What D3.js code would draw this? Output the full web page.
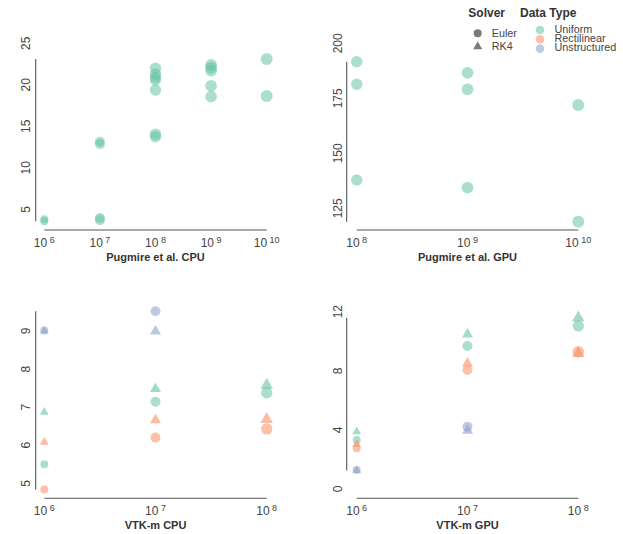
<!DOCTYPE html>
<html>
<head>
<meta charset="utf-8">
<script src="https://cdn.jsdelivr.net/npm/d3@7"></script>
<style>
  html, body { margin: 0; padding: 0; background: #fff; }
  svg { display: block; font-family: "Liberation Sans", Arial, Helvetica, sans-serif; }
</style>
</head>
<body>
<svg id="chart" width="623" height="534"></svg>
<script>
// ---------- data ----------
const panelTitles = ["Pugmire et al. CPU", "Pugmire et al. GPU", "VTK-m CPU", "VTK-m GPU"];
const solvers = ["Euler", "RK4"];
const dataTypes = ["Uniform", "Rectilinear", "Unstructured"];

// [particles, time, solver, data type]
const pugmireCpu = [
  [1e6, 3.8, "Euler", "Uniform"], [1e6, 3.55, "Euler", "Uniform"],
  [1e7, 3.95, "Euler", "Uniform"], [1e7, 3.7, "Euler", "Uniform"],
  [1e7, 13.14, "Euler", "Uniform"], [1e7, 12.87, "Euler", "Uniform"],
  [1e8, 22.0, "Euler", "Uniform"], [1e8, 21.3, "Euler", "Uniform"],
  [1e8, 20.9, "Euler", "Uniform"], [1e8, 20.58, "Euler", "Uniform"],
  [1e8, 19.37, "Euler", "Uniform"], [1e8, 14.04, "Euler", "Uniform"],
  [1e8, 13.75, "Euler", "Uniform"],
  [1e9, 22.39, "Euler", "Uniform"], [1e9, 22.06, "Euler", "Uniform"],
  [1e9, 21.7, "Euler", "Uniform"], [1e9, 19.86, "Euler", "Uniform"],
  [1e9, 18.57, "Euler", "Uniform"],
  [1e10, 23.1, "Euler", "Uniform"], [1e10, 18.65, "Euler", "Uniform"]
];
const pugmireGpu = [
  [1e8, 191.6, "Euler", "Uniform"], [1e8, 181.4, "Euler", "Uniform"], [1e8, 137.9, "Euler", "Uniform"],
  [1e9, 186.6, "Euler", "Uniform"], [1e9, 179.1, "Euler", "Uniform"], [1e9, 134.4, "Euler", "Uniform"],
  [1e10, 172.0, "Euler", "Uniform"], [1e10, 118.9, "Euler", "Uniform"]
];
const vtkmCpu = [
  [1e6, 9.01, "Euler", "Unstructured"], [1e6, 9.0, "RK4", "Unstructured"],
  [1e6, 6.87, "RK4", "Uniform"], [1e6, 6.08, "RK4", "Rectilinear"],
  [1e6, 5.5, "Euler", "Uniform"], [1e6, 4.84, "Euler", "Rectilinear"],
  [1e7, 9.52, "Euler", "Unstructured"], [1e7, 8.99, "RK4", "Unstructured"],
  [1e7, 7.48, "RK4", "Uniform"], [1e7, 7.14, "Euler", "Uniform"],
  [1e7, 6.66, "RK4", "Rectilinear"], [1e7, 6.2, "Euler", "Rectilinear"],
  [1e8, 7.58, "RK4", "Uniform"], [1e8, 7.38, "Euler", "Uniform"],
  [1e8, 6.68, "RK4", "Rectilinear"], [1e8, 6.43, "Euler", "Rectilinear"]
];
const vtkmGpu = [
  [1e6, 3.88, "RK4", "Uniform"], [1e6, 3.32, "Euler", "Uniform"],
  [1e6, 3.04, "RK4", "Rectilinear"], [1e6, 2.75, "Euler", "Rectilinear"],
  [1e6, 1.29, "Euler", "Unstructured"], [1e6, 1.25, "RK4", "Unstructured"],
  [1e7, 10.47, "RK4", "Uniform"], [1e7, 9.68, "Euler", "Uniform"],
  [1e7, 8.5, "RK4", "Rectilinear"], [1e7, 8.05, "Euler", "Rectilinear"],
  [1e7, 4.22, "Euler", "Unstructured"], [1e7, 3.95, "RK4", "Unstructured"],
  [1e8, 11.59, "RK4", "Uniform"], [1e8, 11.03, "Euler", "Uniform"],
  [1e8, 9.29, "Euler", "Rectilinear"], [1e8, 9.18, "RK4", "Rectilinear"]
];
const panelData = [pugmireCpu, pugmireGpu, vtkmCpu, vtkmGpu];

// tick labels
const xTickExps = [[6, 7, 8, 9, 10], [8, 9, 10], [6, 7, 8], [6, 7, 8]];
const yTicks = [[5, 10, 15, 20, 25], [125, 150, 175, 200], [5, 6, 7, 8, 9], [0, 4, 8, 12]];

// ---------- layout ----------
const colors = { Uniform: "#66c2a5", Rectilinear: "#fc8d62", Unstructured: "#8da0cb" };
const layouts = [
  { xr: [44.3, 266.7], yr: [209.3, 43.3], axX: 35.7, axY: 230, labX: 30 },
  { xr: [356.7, 578.3], yr: [208.3, 43.3], axX: 346.7, axY: 230, labX: 341.5 },
  { xr: [44.3, 266.7], yr: [483.3, 331.0], axX: 35.7, axY: 498.3, labX: 30 },
  { xr: [356.7, 578.3], yr: [489.0, 311.7], axX: 346.7, axY: 498.3, labX: 341.5 }
];
const textCol = "#444";
const lineCol = "#555";

const svg = d3.select("#chart");
const rScale = d3.scaleLinear().domain([6, 7, 8, 10]).range([4.0, 5.0, 5.7, 6.0]);

panelData.forEach((data, i) => {
  const L = layouts[i];
  const ex = xTickExps[i];
  const yt = yTicks[i];
  const x = d3.scaleLog().domain([Math.pow(10, ex[0]), Math.pow(10, ex[ex.length - 1])]).range(L.xr);
  const y = d3.scaleLinear().domain([yt[0], yt[yt.length - 1]]).range(L.yr);
  const g = svg.append("g");

  // range-frame axes
  const xe = d3.extent(data, d => d[0]);
  const ye = d3.extent(data, d => d[1]);
  g.append("line").attr("x1", x(xe[0])).attr("x2", x(xe[1]))
    .attr("y1", L.axY).attr("y2", L.axY).attr("stroke", lineCol).attr("stroke-width", 1.1);
  g.append("line").attr("x1", L.axX).attr("x2", L.axX)
    .attr("y1", y(ye[0])).attr("y2", y(ye[1])).attr("stroke", lineCol).attr("stroke-width", 1.1);

  // x tick labels
  ex.forEach(e => {
    const t = g.append("text").attr("x", x(Math.pow(10, e))).attr("y", L.axY + 16.5)
      .attr("text-anchor", "middle").attr("fill", textCol).attr("font-size", 12);
    t.append("tspan").text("10");
    t.append("tspan").attr("dx", 2.5).attr("dy", -4).attr("font-size", 9).text(e);
  });
  // y tick labels
  yt.forEach(v => {
    g.append("text").attr("transform", `translate(${L.labX},${y(v)}) rotate(-90)`)
      .attr("text-anchor", "middle").attr("fill", textCol).attr("font-size", 12).text(v);
  });
  // title
  g.append("text").attr("x", (L.xr[0] + L.xr[1]) / 2).attr("y", L.axY + 30.5)
    .attr("text-anchor", "middle").attr("font-weight", "bold").attr("font-size", 11)
    .attr("fill", "#333").text(panelTitles[i]);

  // points
  data.forEach(d => {
    const r = rScale(Math.log10(d[0]));
    const cx = x(d[0]), cy = y(d[1]);
    if (d[2] === "Euler") {
      g.append("circle").attr("cx", cx).attr("cy", cy).attr("r", r)
        .attr("fill", colors[d[3]]).attr("fill-opacity", 0.55);
    } else {
      g.append("path").attr("d", d3.symbol().type(d3.symbolTriangle).size(2.1 * r * r)())
        .attr("transform", `translate(${cx},${cy})`)
        .attr("fill", colors[d[3]]).attr("fill-opacity", 0.6);
    }
  });
});

// ---------- legend ----------
const lg = svg.append("g").attr("fill", "#333");
lg.append("text").attr("x", 468.3).attr("y", 16.7).attr("font-weight", "bold").attr("font-size", 12).text("Solver");
lg.append("text").attr("x", 520).attr("y", 16.7).attr("font-weight", "bold").attr("font-size", 12).text("Data Type");
solvers.forEach((s, k) => {
  const cy = 33.3 + k * 13.3;
  if (s === "Euler") {
    lg.append("circle").attr("cx", 477.7).attr("cy", cy).attr("r", 4).attr("fill", "#7a7a7a");
  } else {
    lg.append("path").attr("d", d3.symbol().type(d3.symbolTriangle).size(36)())
      .attr("transform", `translate(477.7,${cy})`).attr("fill", "#7a7a7a");
  }
  lg.append("text").attr("x", 491.7).attr("y", cy + 3.6).attr("font-size", 10.8).attr("fill", textCol).text(s);
});
dataTypes.forEach((t, k) => {
  const cy = 30 + k * 9.3;
  lg.append("circle").attr("cx", 540).attr("cy", cy).attr("r", 4.3)
    .attr("fill", colors[t]).attr("fill-opacity", 0.55);
  lg.append("text").attr("x", 554.5).attr("y", cy + 2.8).attr("font-size", 10.8).attr("fill", textCol).text(t);
});
</script>
</body>
</html>
